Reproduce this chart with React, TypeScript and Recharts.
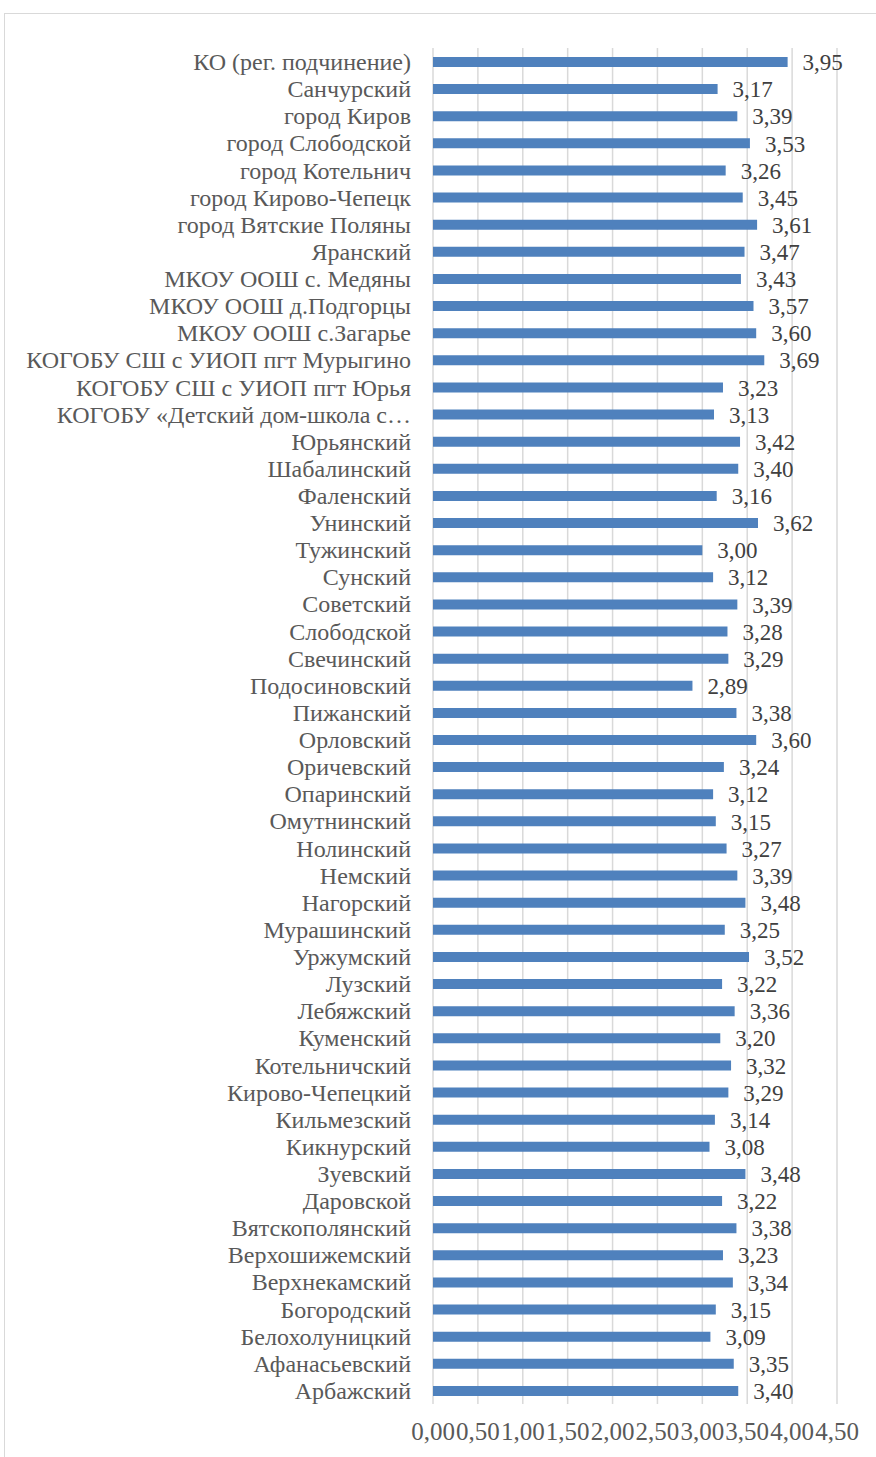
import React from "react";
import { BarChart, Bar, XAxis, YAxis, CartesianGrid, LabelList } from "recharts";

const districts = [
  "КО (рег. подчинение)",
  "Санчурский",
  "город Киров",
  "город Слободской",
  "город Котельнич",
  "город Кирово-Чепецк",
  "город Вятские Поляны",
  "Яранский",
  "МКОУ ООШ с. Медяны",
  "МКОУ ООШ д.Подгорцы",
  "МКОУ ООШ с.Загарье",
  "КОГОБУ СШ с УИОП пгт Мурыгино",
  "КОГОБУ СШ с УИОП пгт Юрья",
  "КОГОБУ «Детский дом-школа с…",
  "Юрьянский",
  "Шабалинский",
  "Фаленский",
  "Унинский",
  "Тужинский",
  "Сунский",
  "Советский",
  "Слободской",
  "Свечинский",
  "Подосиновский",
  "Пижанский",
  "Орловский",
  "Оричевский",
  "Опаринский",
  "Омутнинский",
  "Нолинский",
  "Немский",
  "Нагорский",
  "Мурашинский",
  "Уржумский",
  "Лузский",
  "Лебяжский",
  "Куменский",
  "Котельничский",
  "Кирово-Чепецкий",
  "Кильмезский",
  "Кикнурский",
  "Зуевский",
  "Даровской",
  "Вятскополянский",
  "Верхошижемский",
  "Верхнекамский",
  "Богородский",
  "Белохолуницкий",
  "Афанасьевский",
  "Арбажский",
];

const scores = [
  3.95, 3.17, 3.39, 3.53, 3.26, 3.45, 3.61, 3.47, 3.43, 3.57, 3.6, 3.69, 3.23,
  3.13, 3.42, 3.4, 3.16, 3.62, 3.0, 3.12, 3.39, 3.28, 3.29, 2.89, 3.38, 3.6,
  3.24, 3.12, 3.15, 3.27, 3.39, 3.48, 3.25, 3.52, 3.22, 3.36, 3.2, 3.32, 3.29,
  3.14, 3.08, 3.48, 3.22, 3.38, 3.23, 3.34, 3.15, 3.09, 3.35, 3.4,
];

const xTicks = [0, 0.5, 1, 1.5, 2, 2.5, 3, 3.5, 4, 4.5];

const data = districts.map((name, i) => ({ name, value: scores[i] }));

const fmt = (v: number) => v.toFixed(2).replace(".", ",");

const font = "'Liberation Serif', 'Times New Roman', serif";

export default function App() {
  return (
    <div
      style={{
        position: "fixed",
        left: 0,
        top: 0,
        width: 876,
        height: 1457,
        overflow: "hidden",
        background: "#fff",
        fontFamily: font,
      }}
    >
      <div
        style={{
          position: "absolute",
          left: 4,
          top: 13,
          width: 900,
          height: 1500,
          border: "1px solid #d9d9d9",
        }}
      />
      <div style={{ position: "absolute", left: 0, top: 0 }}>
        <BarChart
          width={876}
          height={1457}
          data={data}
          layout="vertical"
          margin={{ top: 48, bottom: 0, left: 0, right: 39 }}
        >
          <CartesianGrid horizontal={false} stroke="#d9d9d9" strokeWidth={1.5} />
          <XAxis
            type="number"
            domain={[0, 4.5]}
            ticks={xTicks}
            tickFormatter={fmt}
            axisLine={false}
            tickLine={false}
            tickMargin={12}
            height={53}
            interval={0}
            tick={{ fill: "#595959", fontSize: 25, fontFamily: font }}
          />
          <YAxis
            type="category"
            dataKey="name"
            width={433}
            axisLine={false}
            tickLine={false}
            tickSize={0}
            tickMargin={22}
            interval={0}
            tick={{ fill: "#595959", fontSize: 24, fontFamily: font }}
          />
          <Bar dataKey="value" fill="#4f81bd" barSize={10} isAnimationActive={false}>
            <LabelList
              dataKey="value"
              position="right"
              offset={15}
              formatter={(v: number) => fmt(v)}
              style={{ fill: "#404040", fontSize: 23, fontFamily: font }}
            />
          </Bar>
        </BarChart>
      </div>
    </div>
  );
}
